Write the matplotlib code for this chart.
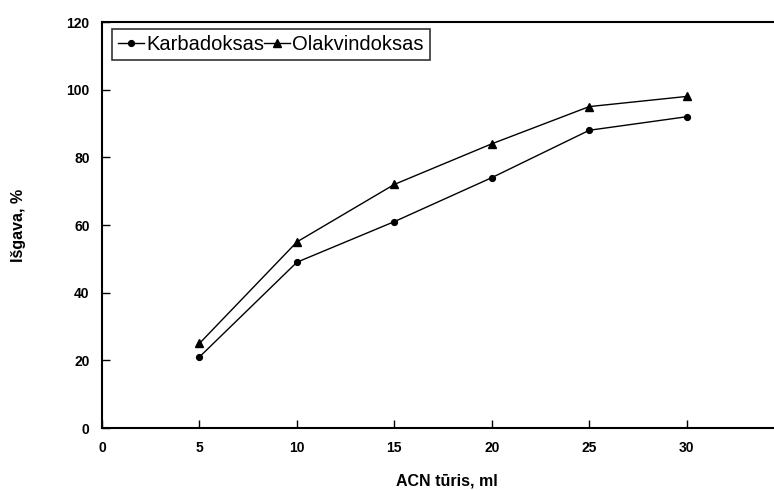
import matplotlib.pyplot as plt

plt.rcParams['font.family'] = ['Liberation Sans', 'DejaVu Sans']

acn = [5, 10, 15, 20, 25, 30]
karbadoksas = [21, 49, 61, 74, 88, 92]
olakvindoksas = [25, 55, 72, 84, 95, 98]

fig = plt.figure(figsize=(7.74, 4.9), dpi=100)
# right spine falls just outside the picture, as in the original
ax = fig.add_axes([102/774, 1-428/490, 690/774, 406/490])

ax.plot(acn, karbadoksas, 'k-', marker='o', markersize=4.2, linewidth=1, label='Karbadoksas')
ax.plot(acn, olakvindoksas, 'k-', marker='^', markersize=5.8, linewidth=1, label='Olakvindoksas')

ax.set_xlim(0, 35.4)
ax.set_ylim(0, 120)
ax.set_xticks([0, 5, 10, 15, 20, 25, 30])
ax.set_yticks([0, 20, 40, 60, 80, 100, 120])
ax.tick_params(direction='in', length=6, width=1, pad=9, labelsize=10)
for lab in ax.get_xticklabels() + ax.get_yticklabels():
    lab.set_fontweight('bold')
for s in ax.spines.values():
    s.set_linewidth(1.5)

ax.set_xlabel('ACN tūris, ml', fontsize=11.5, fontweight='bold', labelpad=14)
ax.set_ylabel('Išgava, %', fontsize=11.5, fontweight='bold', labelpad=29)

leg = ax.legend(loc='upper left', bbox_to_anchor=(112/774, 1-29/490), bbox_transform=fig.transFigure,
                ncol=2, fontsize=14.5, frameon=True, fancybox=False, edgecolor='black',
                handlelength=1.3, handletextpad=0.1, columnspacing=0.0, borderpad=0.3,
                borderaxespad=0)
leg.get_frame().set_linewidth(1.2)

fig.savefig('out.png', dpi=100)
